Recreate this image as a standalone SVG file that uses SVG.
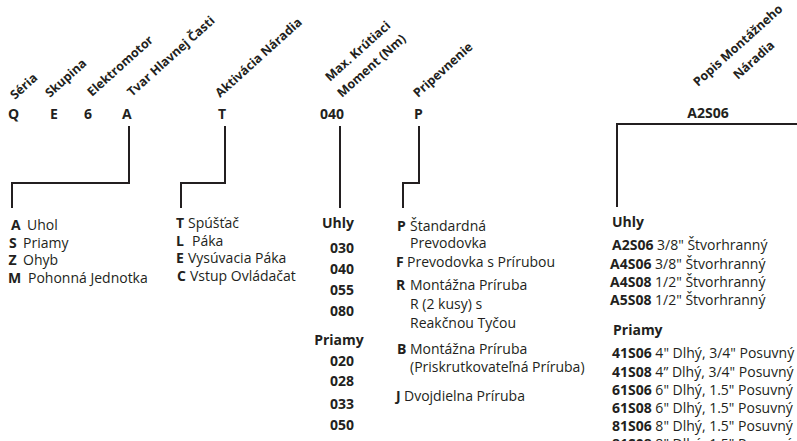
<svg xmlns="http://www.w3.org/2000/svg" width="797" height="441" viewBox="0 0 797 441">
<style>
text{font-family:"Open Sans","Noto Sans","DejaVu Sans",sans-serif;fill:#231f20}
.h{font-weight:bold;font-size:12.5px}
.c{font-weight:bold;font-size:14px}
.r{font-size:14px}
.b{font-weight:bold}
.ln{fill:none;stroke:#231f20;stroke-width:2}
</style>
<rect width="797" height="441" fill="#fff"/>
<g id="headers">
<text class="h" transform="matrix(0.7431,-0.6691,0.6691,0.7431,15,100)">Séria</text>
<text class="h" transform="matrix(0.7431,-0.6691,0.6691,0.7431,50,98)">Skupina</text>
<text class="h" transform="matrix(0.7431,-0.6691,0.6691,0.7431,92,97)">Elektromotor</text>
<text class="h" transform="matrix(0.7431,-0.6691,0.6691,0.7431,132,97)">Tvar Hlavnej Časti</text>
<text class="h" transform="matrix(0.7431,-0.6691,0.6691,0.7431,220,98)">Aktivácia Náradia</text>
<text class="h" transform="matrix(0.7431,-0.6691,0.6691,0.7431,330,82)">Max. Krútiaci</text>
<text class="h" transform="matrix(0.7431,-0.6691,0.6691,0.7431,342,98)">Moment (Nm)</text>
<text class="h" transform="matrix(0.7431,-0.6691,0.6691,0.7431,418,98)">Pripevnenie</text>
<text class="h" transform="matrix(0.7431,-0.6691,0.6691,0.7431,698,87)">Popis Montážneho</text>
<text class="h" transform="matrix(0.7431,-0.6691,0.6691,0.7431,738,80)">Náradia</text>
</g>
<g id="codes">
<text class="c" x="8" y="119">Q</text>
<text class="c" x="50" y="119">E</text>
<text class="c" x="84" y="119">6</text>
<text class="c" x="122" y="119">A</text>
<text class="c" x="218" y="119">T</text>
<text class="c" x="320" y="119">040</text>
<text class="c" x="414" y="119">P</text>
<text class="c" x="708" y="118" text-anchor="middle">A2S06</text>
</g>
<g id="connectors">
<path class="ln" d="M129,126V183H12V208"/>
<path class="ln" d="M225,126V183H181V208"/>
<path class="ln" d="M340,126V208"/>
<path class="ln" d="M419,126V183H403V208"/>
<path class="ln" d="M617,207V124H797"/>
</g>
<g id="list-shape">
<text class="r" x="11" y="230"><tspan class="b">A</tspan><tspan x="27">Uhol</tspan></text>
<text class="r" x="9" y="247.5"><tspan class="b">S</tspan><tspan x="23">Priamy</tspan></text>
<text class="r" x="8.5" y="265"><tspan class="b">Z</tspan><tspan x="23">Ohyb</tspan></text>
<text class="r" x="8" y="282.5"><tspan class="b">M</tspan><tspan x="28">Pohonná Jednotka</tspan></text>
</g>
<g id="list-activation">
<text class="r" x="176" y="228"><tspan class="b">T</tspan><tspan x="188">Spúšťač</tspan></text>
<text class="r" x="176" y="245.5"><tspan class="b">L</tspan><tspan x="192">Páka</tspan></text>
<text class="r" x="176" y="263"><tspan class="b">E</tspan><tspan x="188">Vysúvacia Páka</tspan></text>
<text class="r" x="177" y="280.5"><tspan class="b">C</tspan><tspan x="190">Vstup Ovládačat</tspan></text>
</g>
<g id="list-torque">
<text class="c" x="338" y="228" text-anchor="middle">Uhly</text>
<text class="c" x="342" y="253" text-anchor="middle">030</text>
<text class="c" x="342" y="274" text-anchor="middle">040</text>
<text class="c" x="342" y="295" text-anchor="middle">055</text>
<text class="c" x="342" y="316" text-anchor="middle">080</text>
<text class="c" x="339" y="345" text-anchor="middle">Priamy</text>
<text class="c" x="342" y="366" text-anchor="middle">020</text>
<text class="c" x="342" y="386" text-anchor="middle">028</text>
<text class="c" x="342" y="409" text-anchor="middle">033</text>
<text class="c" x="342" y="430" text-anchor="middle">050</text>
</g>
<g id="list-mounting">
<text class="r" x="397" y="231"><tspan class="b">P</tspan><tspan x="410">Štandardná</tspan></text>
<text class="r" x="410" y="248">Prevodovka</text>
<text class="r" x="396" y="267"><tspan class="b">F</tspan><tspan x="407">Prevodovka s Prírubou</tspan></text>
<text class="r" x="396" y="290"><tspan class="b">R</tspan><tspan x="410">Montážna Príruba</tspan></text>
<text class="r" x="410" y="309">R (2 kusy) s</text>
<text class="r" x="410" y="328">Reakčnou Tyčou</text>
<text class="r" x="397" y="354"><tspan class="b">B</tspan><tspan x="410">Montážna Príruba</tspan></text>
<text class="r" x="410" y="372">(Priskrutkovateľná Príruba)</text>
<text class="r" x="396" y="401"><tspan class="b">J</tspan><tspan x="404">Dvojdielna Príruba</tspan></text>
</g>
<g id="list-tool">
<text class="c" x="612" y="227">Uhly</text>
<text class="r" x="612" y="250"><tspan class="b">A2S06</tspan> 3/8" Štvorhranný</text>
<text class="r" x="610" y="268.5"><tspan class="b">A4S06</tspan> 3/8" Štvorhranný</text>
<text class="r" x="610" y="287"><tspan class="b">A4S08</tspan> 1/2" Štvorhranný</text>
<text class="r" x="610" y="305"><tspan class="b">A5S08</tspan> 1/2" Štvorhranný</text>
<text class="c" x="613" y="335">Priamy</text>
<text class="r" x="612" y="358"><tspan class="b">41S06</tspan> 4" Dlhý, 3/4" Posuvný</text>
<text class="r" x="612" y="377"><tspan class="b">41S08</tspan> 4” Dlhý, 3/4" Posuvný</text>
<text class="r" x="612" y="395"><tspan class="b">61S06</tspan> 6" Dlhý, 1.5" Posuvný</text>
<text class="r" x="612" y="413"><tspan class="b">61S08</tspan> 6" Dlhý, 1.5" Posuvný</text>
<text class="r" x="612" y="431"><tspan class="b">81S06</tspan> 8" Dlhý, 1.5" Posuvný</text>
<text class="r" x="612" y="449"><tspan class="b">81S08</tspan> 8" Dlhý, 1.5" Posuvný</text>
</g>
</svg>
